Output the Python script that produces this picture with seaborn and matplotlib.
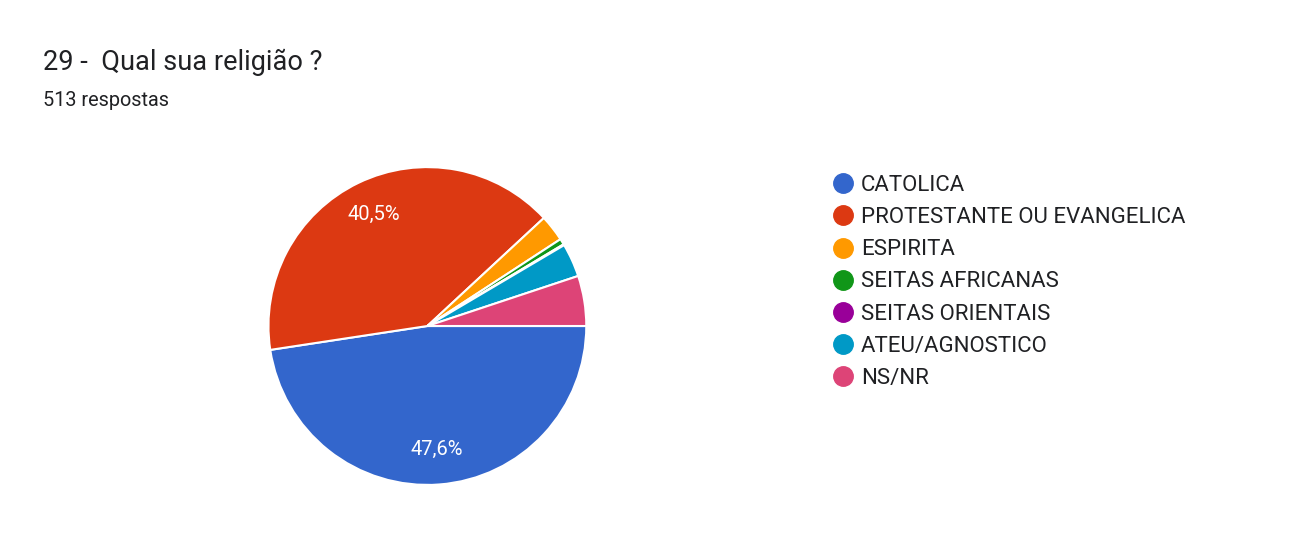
import matplotlib
matplotlib.use("Agg")
import matplotlib.pyplot as plt
from matplotlib.lines import Line2D
import seaborn as sns

categories = ["CATOLICA", "PROTESTANTE OU EVANGELICA", "ESPIRITA", "SEITAS AFRICANAS",
              "SEITAS ORIENTAIS", "ATEU/AGNOSTICO", "NS/NR"]
values = [47.6, 40.5, 2.7, 0.6, 0.1, 3.4, 5.1]
colors = sns.color_palette(["#3366cc", "#dc3912", "#ff9900", "#109618", "#990099", "#0099c6", "#dd4477"])

plt.rcParams['font.family'] = ['Roboto', 'DejaVu Sans']
fig = plt.figure(figsize=(12.99, 5.47), dpi=100)
fig.patch.set_facecolor("white")
ax = fig.add_axes([0.329 - 0.1225, 0.404 - 0.2905, 0.245, 0.581])

def fmt(p):
    return f"{p:.1f}".replace(".", ",") + "%" if p > 10 else ""

ax.pie(values, colors=colors, startangle=0, counterclock=False,
       wedgeprops=dict(edgecolor="white", linewidth=1.5),
       autopct=fmt, pctdistance=0.78, textprops=dict(color="white", fontsize=14.5))
ax.set_xlim(-1, 1)
ax.set_ylim(-1, 1)
ax.set_aspect("equal")

fig.text(43/1299, 1 - 62/547, "29 -  Qual sua religião ?", fontsize=19.5, color="#202124", va="center")
fig.text(43/1299, 1 - 100/547, "513 respostas", fontsize=14.3, color="#202124", va="center")

handles = [Line2D([0], [0], marker="o", linestyle="none", markersize=14,
                  markerfacecolor=c, markeredgecolor=c) for c in colors]
fig.legend(handles, categories, loc="upper left", bbox_to_anchor=(822/1299, 1 - 164/547),
           frameon=False, fontsize=16, labelspacing=0.5, handlelength=0.9,
           handletextpad=0.35, borderpad=0, labelcolor="#202124")

fig.savefig("out.png", dpi=100, facecolor="white")
